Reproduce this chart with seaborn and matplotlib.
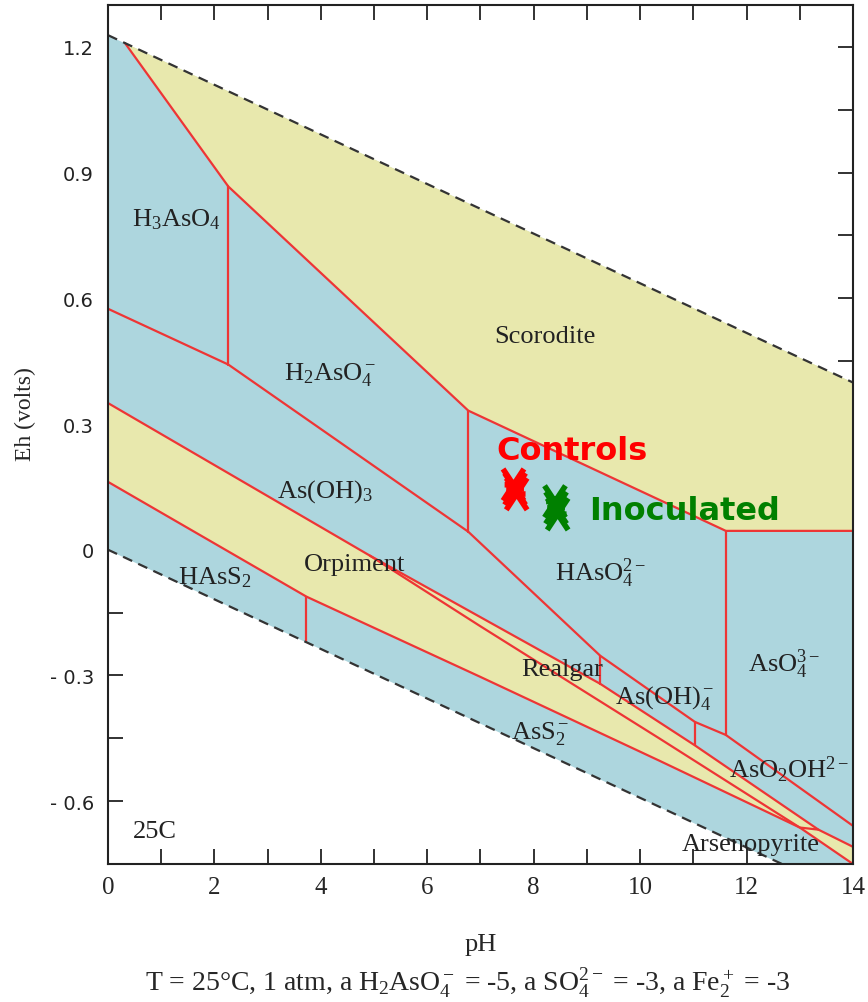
import matplotlib
matplotlib.use("Agg")
import matplotlib.pyplot as plt
from matplotlib.ticker import MultipleLocator, FuncFormatter
from matplotlib.path import Path
import seaborn as sns

# water stability limits (pH, Eh)
water_ph = [0, 14]
o2_eh = [1.228, 0.399]
h2_eh = [0.0, -0.829]

# Scorodite field outline
scorodite_ph = [0.32, 14, 14, 11.61, 6.77, 2.26, 0.32]
scorodite_eh = [1.209, 0.399, 0.045, 0.045, 0.332, 0.867, 1.209]

# sulfide fields outline (orpiment + realgar + arsenopyrite)
sulfide_ph = [0, 4.92, 9.25, 11.03, 13.35, 14, 14, 13.0, 10.37, 6.99, 3.73, 0]
sulfide_eh = [0.35, -0.014, -0.32, -0.467, -0.668, -0.709, -0.75, -0.663, -0.504, -0.303, -0.112, 0.162]

# field boundaries, (pH, Eh) vertices
b_scorodite = [(0.32, 1.209), (2.26, 0.867), (6.77, 0.332), (11.61, 0.045), (14, 0.045)]
b_h3_h2 = [(2.26, 0.867), (2.26, 0.442)]
b_aso4_aso3 = [(0, 0.575), (2.26, 0.442), (6.77, 0.043), (9.25, -0.253),
               (11.03, -0.411), (11.61, -0.442), (14, -0.659)]
b_h2_h = [(6.77, 0.332), (6.77, 0.043)]
b_aso3_aso4m = [(9.25, -0.253), (9.25, -0.32)]
b_aso4m_aso2oh = [(11.03, -0.411), (11.03, -0.467)]
b_h_aso4 = [(11.61, 0.045), (11.61, -0.442)]
b_sulfide_top = [(0, 0.35), (4.92, -0.014), (9.25, -0.32), (11.03, -0.467), (13.35, -0.668), (14, -0.709)]
b_realgar_orp = [(4.92, -0.014), (6.99, -0.182), (10.37, -0.451), (13.0, -0.663), (13.35, -0.668)]
b_sulfide_bot = [(0, 0.162), (3.73, -0.112), (6.99, -0.303), (10.37, -0.504), (13.0, -0.663), (14, -0.75)]
b_hass2_ass2 = [(3.73, -0.112), (3.73, -0.221)]
boundaries = [b_scorodite, b_h3_h2, b_aso4_aso3, b_h2_h, b_aso3_aso4m, b_aso4m_aso2oh,
              b_h_aso4, b_sulfide_top, b_realgar_orp, b_sulfide_bot, b_hass2_ass2]

# measured samples
controls_ph = [7.62, 7.68, 7.65]
controls_eh = [0.155, 0.133, 0.145]
inoc_ph = [8.40, 8.45, 8.42]
inoc_eh = [0.115, 0.085, 0.100]

# field labels
field_names = [r"H$_3$AsO$_4$", r"H$_2$AsO$_4^-$", "Scorodite", r"As(OH)$_3$", "Orpiment",
               r"HAsS$_2$", r"HAsO$_4^{2-}$", r"AsO$_4^{3-}$", "Realgar", r"As(OH)$_4^-$",
               r"AsS$_2^-$", r"AsO$_2$OH$^{2-}$", "Arsenopyrite", "25C"]
field_ph = [1.28, 4.17, 8.21, 4.08, 4.64, 2.01, 9.25, 12.7, 8.53, 10.47, 8.12, 12.8, 12.07, 0.88]
field_eh = [0.79, 0.42, 0.511, 0.141, -0.033, -0.064, -0.053, -0.27, -0.284, -0.351, -0.435, -0.523, -0.702, -0.671]

blue = "#ADD6DE"
yellow = "#E8E8AD"
red = "#EE3535"

sns.set_style("ticks")
plt.rcParams["font.family"] = ["Liberation Serif", "DejaVu Serif"]
plt.rcParams["mathtext.fontset"] = "custom"
plt.rcParams["mathtext.rm"] = "Liberation Serif"
plt.rcParams["mathtext.it"] = "Liberation Serif:italic"
plt.rcParams["mathtext.bf"] = "Liberation Serif:bold"

fig = plt.figure(figsize=(8.68, 10.03), dpi=100)
ax = fig.add_axes([0.12442, 0.13759, 0.85829, 0.85643])

ax.fill_between(water_ph, h2_eh, o2_eh, color=blue, lw=0, zorder=1)
ax.fill(scorodite_ph, scorodite_eh, color=yellow, lw=0, zorder=2)
ax.fill(sulfide_ph, sulfide_eh, color=yellow, lw=0, zorder=2)

for b in boundaries:
    sns.lineplot(x=[p[0] for p in b], y=[p[1] for p in b], sort=False, estimator=None,
                 color=red, linewidth=1.6, ax=ax, zorder=3)

for eh in [o2_eh, h2_eh]:
    sns.lineplot(x=water_ph, y=eh, color="#333333", linewidth=1.6,
                 linestyle=(0, (4.5, 3)), ax=ax, zorder=4)

for name, x, y in zip(field_names, field_ph, field_eh):
    ax.text(x, y, name, ha="center", va="center", fontsize=19, color="#222222", zorder=5)

# tall x with a bar, like the hand-drawn sample marks
mark = Path([(-0.33, -0.5), (0.33, 0.5), (-0.33, 0.5), (0.33, -0.5), (-0.28, 0.0), (0.28, 0.0)],
            [Path.MOVETO, Path.LINETO, Path.MOVETO, Path.LINETO, Path.MOVETO, Path.LINETO])
sns.scatterplot(x=controls_ph, y=controls_eh, marker=mark, s=520, color="red",
                facecolor="none", edgecolor="red", linewidth=4, ax=ax, zorder=6)
sns.scatterplot(x=inoc_ph, y=inoc_eh, marker=mark, s=520, color="green",
                facecolor="none", edgecolor="#008000", linewidth=4, ax=ax, zorder=6)
ax.text(8.72, 0.236, "Controls", color="red", fontsize=23, fontweight="bold",
        family="DejaVu Sans", ha="center", va="center", zorder=6)
ax.text(10.84, 0.093, "Inoculated", color="#008000", fontsize=23, fontweight="bold",
        family="DejaVu Sans", ha="center", va="center", zorder=6)

ax.set_xlim(0, 14)
ax.set_ylim(-0.75, 1.3)
ax.xaxis.set_major_locator(MultipleLocator(2))
ax.xaxis.set_minor_locator(MultipleLocator(1))
ax.yaxis.set_major_locator(MultipleLocator(0.3))
ax.yaxis.set_minor_locator(MultipleLocator(0.15))


def eh_fmt(v, pos):
    if abs(v) < 1e-9:
        return "0"
    if v < 0:
        return "- %.1f" % -v
    return "%.1f" % v


ax.yaxis.set_major_formatter(FuncFormatter(eh_fmt))
ax.tick_params(which="both", direction="in", length=11, width=1.3, top=True, right=True, color="#222222")
ax.tick_params(axis="x", labelsize=18, pad=9)
ax.tick_params(axis="y", labelsize=14, pad=10)
for lab in ax.get_yticklabels():
    lab.set_family("DejaVu Sans")
    lab.set_color("#222222")
for sp in ax.spines.values():
    sp.set_linewidth(1.5)
    sp.set_color("#222222")
    sp.set_zorder(7)

ax.set_xlabel("pH", fontsize=19)
ax.xaxis.set_label_coords(0.5, -0.08)
ax.set_ylabel("Eh (volts)", fontsize=17)
ax.yaxis.set_label_coords(-0.097, 0.525)

fig.text(0.539, 1 - 983 / 1003, r"T = 25°C, 1 atm, a H$_2$AsO$_4^-$ = -5, a SO$_4^{2-}$ = -3, a Fe$_2^+$ = -3",
         ha="center", va="center", fontsize=20)

fig.savefig("out.png", dpi=100)
